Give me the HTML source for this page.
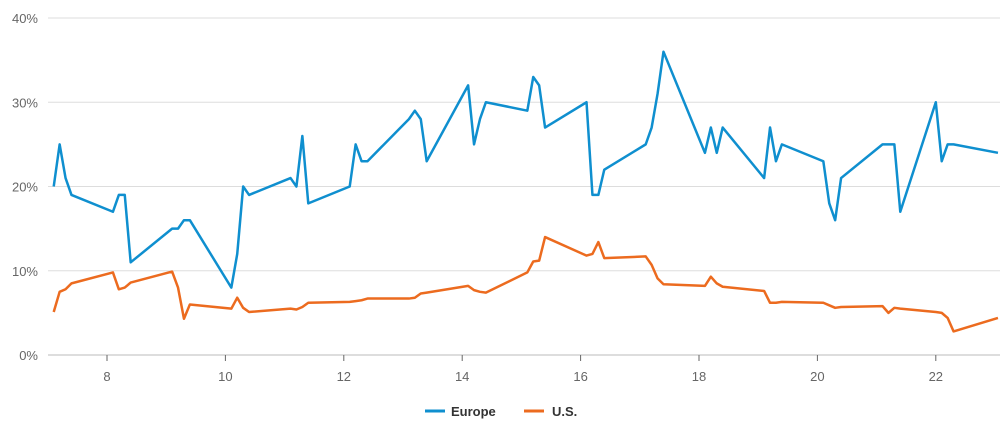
<!DOCTYPE html>
<html><head><meta charset="utf-8"><style>
body{margin:0;background:#fff;font-family:"Liberation Sans",sans-serif}
svg text{font-family:"Liberation Sans",sans-serif}
</style></head><body>
<svg id="chart" width="1005" height="424" xmlns="http://www.w3.org/2000/svg">
<g id="grid"></g>
<g id="axes"></g>
<g id="series"></g>
<g>
<g><line x1="425" y1="411" x2="445" y2="411" stroke="#0f8fcf" stroke-width="3"/><text x="451" y="416" font-size="13" font-weight="bold" fill="#333">Europe</text></g>
<g><line x1="524" y1="411" x2="544" y2="411" stroke="#ec6b1f" stroke-width="3"/><text x="552" y="416" font-size="13" font-weight="bold" fill="#333">U.S.</text></g>
</g>
</svg>
<script>
const yTicks=[0,10,20,30,40];
const xTicks=[8,10,12,14,16,18,20,22];
const euX=[7.1,7.2,7.3,7.4,8.1,8.2,8.3,8.4,9.1,9.2,9.3,9.4,10.1,10.2,10.3,10.4,11.1,11.2,11.3,11.4,12.1,12.2,12.3,12.4,13.1,13.2,13.3,13.4,14.1,14.2,14.3,14.4,15.1,15.2,15.3,15.4,16.1,16.2,16.3,16.4,17.1,17.2,17.3,17.4,18.1,18.2,18.3,18.4,19.1,19.2,19.3,19.4,20.1,20.2,20.3,20.4,21.1,21.2,21.3,21.4,22.0,22.1,22.2,22.3,23.05];
const euY=[20,25,21,19,17,19,19,11,15,15,16,16,8,12,20,19,21,20,26,18,20,25,23,23,28,29,28,23,32,25,28,30,29,33,32,27,30,19,19,22,25,27,31,36,24,27,24,27,21,27,23,25,23,18,16,21,25,25,25,17,30,23,25,25,24];
const usX=[7.1,7.2,7.3,7.4,8.1,8.2,8.3,8.4,9.1,9.2,9.3,9.4,10.1,10.2,10.3,10.4,11.1,11.2,11.3,11.4,12.1,12.2,12.3,12.4,13.1,13.2,13.3,13.4,14.1,14.2,14.3,14.4,15.1,15.2,15.3,15.4,16.1,16.2,16.3,16.4,17.1,17.2,17.3,17.4,18.1,18.2,18.3,18.4,19.1,19.2,19.3,19.4,20.1,20.2,20.3,20.4,21.1,21.2,21.3,21.4,22.0,22.1,22.2,22.3,23.05];
const usY=[5.1,7.5,7.8,8.5,9.8,7.8,8.0,8.6,9.9,8.0,4.3,6.0,5.5,6.8,5.6,5.1,5.5,5.4,5.7,6.2,6.3,6.4,6.5,6.7,6.7,6.8,7.3,7.4,8.2,7.7,7.5,7.4,9.8,11.1,11.2,14.0,11.8,12.0,13.4,11.5,11.7,10.7,9.1,8.4,8.2,9.3,8.5,8.1,7.6,6.2,6.2,6.3,6.2,5.9,5.6,5.7,5.8,5.0,5.6,5.5,5.1,5.0,4.4,2.8,4.4];
const NS='http://www.w3.org/2000/svg';
const X0=48,X1=1000,Y0=355,Y40=18;
function xs(d){return 107+(d-8)*59.2;}
function ys(v){return Y0-(Y0-Y40)*v/40;}
function mk(tag,attrs,parent){const e=document.createElementNS(NS,tag);for(const k in attrs)e.setAttribute(k,attrs[k]);parent.appendChild(e);return e;}
const grid=document.getElementById('grid'),axes=document.getElementById('axes'),ser=document.getElementById('series');
yTicks.forEach(v=>{
 const l=mk('line',{x1:X0,x2:X1,y1:ys(v),y2:ys(v),stroke:v===0?'#bbb':'#ddd','stroke-width':1},grid);
 
 
 const t=mk('text',{x:38,y:ys(v)+5,'text-anchor':'end','font-size':13,fill:'#666'},axes);
 t.textContent=v+'%';
 
 
});
xTicks.forEach(d=>{
 const tk=mk('line',{x1:xs(d),x2:xs(d),y1:Y0,y2:Y0+6,stroke:'#666','stroke-width':1},axes);
 
 
 const t=mk('text',{x:xs(d),y:381,'text-anchor':'middle','font-size':13,fill:'#666'},axes);
 t.textContent=d;
 
 
});
function line(xa,ya,color,name){
 const p=mk('polyline',{points:xa.map((d,i)=>xs(d)+','+ys(ya[i])).join(' '),fill:'none',stroke:color,'stroke-width':2.5,'stroke-linejoin':'round'},ser);
 
 
}
line(euX,euY,'#0f8fcf','europe-line');
line(usX,usY,'#ec6b1f','us-line');
</script>
</body></html>
